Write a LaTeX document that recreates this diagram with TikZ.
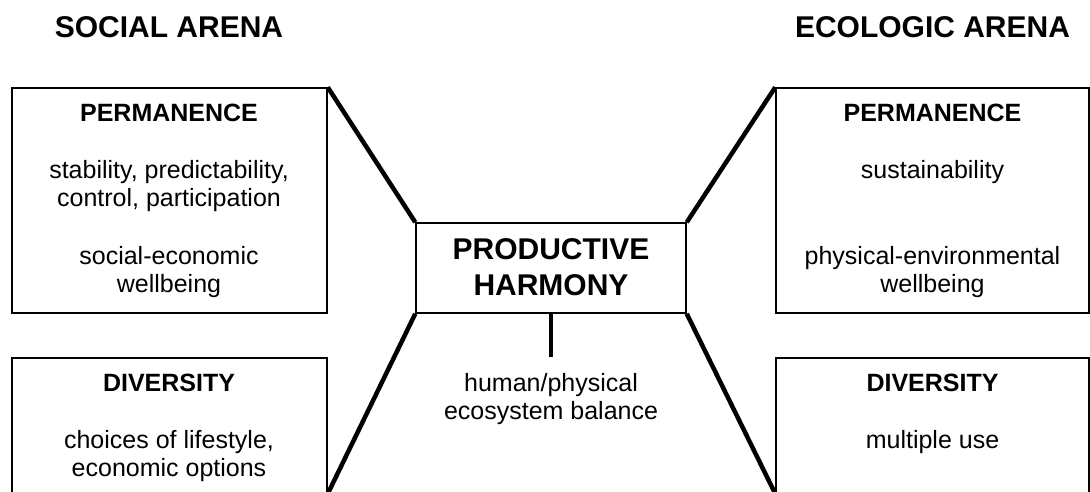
\documentclass[tikz,border=0pt]{standalone}
\usepackage{fontspec}
\setmainfont{Liberation Sans}
\usetikzlibrary{positioning}

\begin{document}
\begin{tikzpicture}[x=1pt, y=-1pt,
  box/.style={draw, line width=1.5pt, minimum width=315pt, inner sep=0pt},
  arena/.style={font=\fontsize{30}{36}\selectfont\bfseries, anchor=base},
  head/.style={font=\fontsize{25}{28}\selectfont\bfseries, anchor=base},
  body/.style={font=\fontsize{25}{28}\selectfont, align=center, anchor=base},
  link/.style={line width=4.5pt}]
\clip (0,0) rectangle (1090,491);
% the two arenas
\node[arena] (socarena) at (169,37) {SOCIAL ARENA};
\node[arena] (ecoarena) at (932.5,37) {ECOLOGIC ARENA};
% boxes
\node[box, minimum height=225pt] (socperm) at (169.5,200.5) {};
\node[box, minimum height=135pt] (socdiv) at (169.5,425.5) {};
\node[box, minimum width=313pt, minimum height=225pt] (ecoperm) at (932.5,200.5) {};
\node[box, minimum width=313pt, minimum height=135pt] (ecodiv) at (932.5,425.5) {};
\node[box, minimum width=270pt, minimum height=90pt] (harmony) at (551,268) {};
% social side (base = baseline of the last line)
\node[head] (socpermhead) at (169,121) {PERMANENCE};
\node[body] (socpermtext) at (169,206) {stability, predictability,\\control, participation};
\node[body] (socwell) at (169,292) {social-economic\\wellbeing};
\node[head] (socdivhead) at (169,391) {DIVERSITY};
\node[body] (socdivtext) at (169,476) {choices of lifestyle,\\economic options};
% ecologic side
\node[head] (ecopermhead) at (932.5,121) {PERMANENCE};
\node[body] (ecopermtext) at (932.5,178) {sustainability};
\node[body] (ecowell) at (932.5,292) {physical-environmental\\wellbeing};
\node[head] (ecodivhead) at (932.5,391) {DIVERSITY};
\node[body] (ecodivtext) at (932.5,448) {multiple use};
% centre
\node[arena, align=center] (harmonytext) at (551,295) {PRODUCTIVE\\HARMONY};
\node[body] (balance) at (551,419) {human/physical\\ecosystem balance};
\coordinate (stem) at (551,357);
% links
\draw[link] (socperm.north east) -- (harmony.north west);
\draw[link] (harmony.south west) -- (socdiv.south east);
\draw[link] (ecoperm.north west) -- (harmony.north east);
\draw[link] (harmony.south east) -- (ecodiv.south west);
\draw[link] (harmony.south) -- (stem);
\end{tikzpicture}
\end{document}
